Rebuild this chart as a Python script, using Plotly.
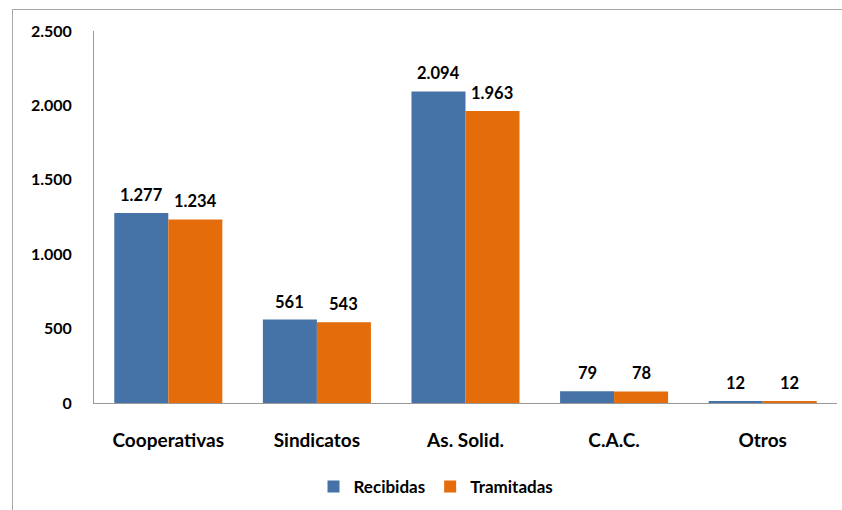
import plotly.graph_objects as go

categories = ["Cooperativas", "Sindicatos", "As. Solid.", "C.A.C.", "Otros"]
recibidas = [1277, 561, 2094, 79, 12]
tramitadas = [1234, 543, 1963, 78, 12]
y_ticks = [0, 500, 1000, 1500, 2000, 2500]

BLUE = "#4572A7"
ORANGE = "#E46C0A"
FONT = "Lato"

fig = go.Figure()
fig.add_trace(go.Bar(name="Recibidas", x=categories, y=recibidas,
                     marker=dict(color=BLUE, line=dict(width=0))))
fig.add_trace(go.Bar(name="Tramitadas", x=categories, y=tramitadas,
                     marker=dict(color=ORANGE, line=dict(width=0))))

# data labels
for i, cat in enumerate(categories):
    for vals, off in [(recibidas, -0.5), (tramitadas, 0.5)]:
        fig.add_annotation(x=i + off * 0.363, y=vals[i], xref="x", yref="y",
                           text=f"{vals[i]:,}".replace(",", "."),
                           showarrow=False, yshift=18,
                           font=dict(family=FONT, size=16.5, color="black", weight="bold"))

pw = 842 - 94 - 5
ph = 510 - 31 - 107

fig.update_layout(
    width=842, height=510,
    margin=dict(l=94, r=5, t=31, b=107, autoexpand=False),
    paper_bgcolor="white", plot_bgcolor="white",
    separators=",.",
    barmode="group", bargap=0.273, bargroupgap=0,
    font=dict(family=FONT, size=15, color="black", weight="bold"),
    showlegend=True,
    legend=dict(orientation="h", x=(436 - 94) / pw, xanchor="center",
                y=(403 - 487) / ph, yanchor="middle",
                font=dict(family=FONT, size=17, color="black", weight="bold"),
                itemwidth=30, traceorder="normal"),
    xaxis=dict(showgrid=False, showline=True, linecolor="#999999", linewidth=1,
               ticks="", ticklabelstandoff=20,
               tickfont=dict(family=FONT, size=19, color="black", weight="bold")),
    yaxis=dict(range=[0, 2500], tickvals=y_ticks, tickformat=",",
               showgrid=False, zeroline=False, showline=True, linecolor="#999999",
               linewidth=1, ticks="", ticklabelstandoff=18,
               tickfont=dict(family=FONT, size=16, color="black", weight="bold")),
)

# outer chart border (left and top visible)
x_left = (12.5 - 94) / pw
y_top = (403 - 9.5) / ph
fig.add_shape(type="line", xref="paper", yref="paper", x0=x_left, x1=x_left,
              y0=(403 - 520) / ph, y1=y_top, line=dict(color="#A6A6A6", width=1))
fig.add_shape(type="line", xref="paper", yref="paper", x0=x_left, x1=(860 - 94) / pw,
              y0=y_top, y1=y_top, line=dict(color="#A6A6A6", width=1))

fig.write_html("out.html", config={"displayModeBar": False},
               post_script="document.body.style.margin='0';document.body.style.overflow='hidden';")
